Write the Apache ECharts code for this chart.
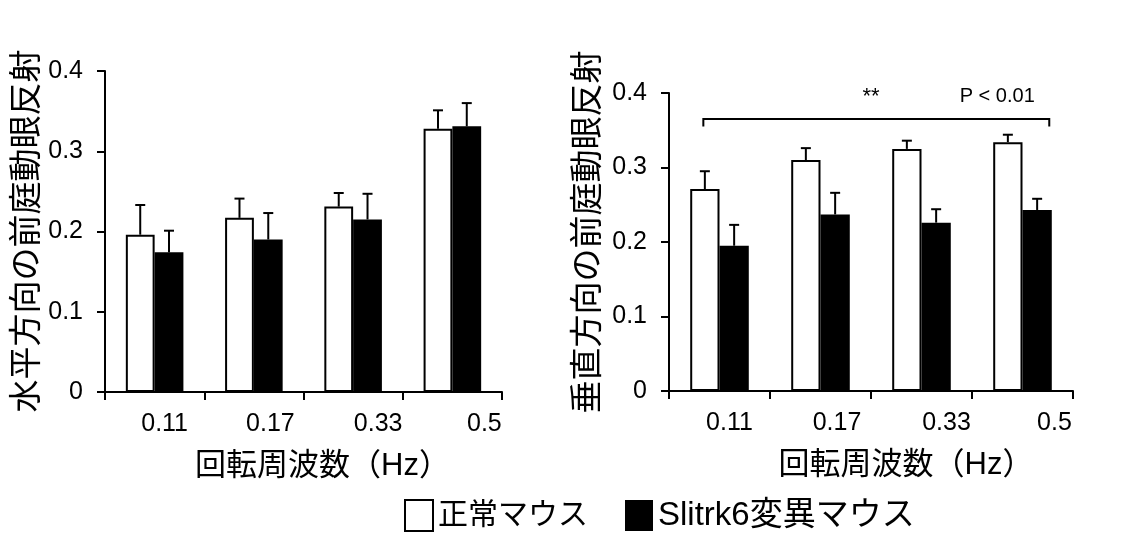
<!DOCTYPE html>
<html>
<head>
<meta charset="utf-8">
<script src="https://cdn.jsdelivr.net/npm/echarts@6/dist/echarts.min.js"></script>
<style>
html,body{margin:0;padding:0;background:#fff;}
#chart{width:1133px;height:535px;}
</style>
</head>
<body>
<div id="chart"></div>
<script>
// ---- data ----
const categories = ['0.11', '0.17', '0.33', '0.5'];
const seriesNames = ['正常マウス', 'Slitrk6変異マウス'];
const yTickValues = [0, 0.1, 0.2, 0.3, 0.4];

const horizNormal = [0.196, 0.217, 0.231, 0.328];
const horizNormalErr = [0.037, 0.024, 0.017, 0.023];
const horizMutant = [0.174, 0.190, 0.215, 0.331];
const horizMutantErr = [0.027, 0.033, 0.032, 0.029];

const vertNormal = [0.271, 0.310, 0.325, 0.334];
const vertNormalErr = [0.024, 0.016, 0.011, 0.010];
const vertMutant = [0.195, 0.237, 0.226, 0.243];
const vertMutantErr = [0.028, 0.029, 0.018, 0.015];

const leftYName = '水平方向の前庭動眼反射';
const rightYName = '垂直方向の前庭動眼反射';
const xName = '回転周波数（Hz）';
const sigLevel = 0.365;
const sigStars = '**';
const sigText = 'P < 0.01';

// ---- chart ----
const FONT = '"Liberation Sans", "Noto Sans CJK JP", sans-serif';
const BAR_FRAC = 0.29;
const LABEL_SHIFT = [20, 33, 50, 64]; // label nudges (padding, px) as in the original layout
const chart = echarts.init(document.getElementById('chart'), null, {renderer: 'canvas'});

function errData(vals, errs) {
  return vals.map((v, i) => [i, v, errs[i]]);
}
function errRenderer(side) {
  return function (params, api) {
    const i = api.value(0), v = api.value(1), e = api.value(2);
    const base = api.coord([i, v]);
    const top = api.coord([i, v + e]);
    const cw = api.size([1, 0])[0];
    const x = base[0] + side * cw * BAR_FRAC / 2;
    const st = {stroke: '#000', lineWidth: 2};
    return {
      type: 'group',
      children: [
        {type: 'line', shape: {x1: x, y1: base[1], x2: x, y2: top[1]}, style: st},
        {type: 'line', shape: {x1: x - 5, y1: top[1], x2: x + 5, y2: top[1]}, style: st}
      ]
    };
  };
}

const labelRich = {};
LABEL_SHIFT.forEach((p, i) => {
  labelRich['c' + i] = {color: '#000', fontSize: 25, fontFamily: FONT, padding: [0, 0, 0, p]};
});

function xAxisCfg(gi, padLeft) {
  return {
    type: 'category', gridIndex: gi, data: categories,
    boundaryGap: true,
    axisLine: {lineStyle: {color: '#000', width: 2}},
    axisTick: {show: true, length: 8, lineStyle: {color: '#000', width: 2}},
    axisLabel: {color: '#000', fontSize: 25, fontFamily: FONT, margin: 20,
      interval: 0, hideOverlap: false,
      formatter: (v, idx) => '{c' + idx + '|' + v + '}', rich: labelRich},
    name: xName, nameLocation: 'middle', nameGap: 59,
    nameTextStyle: {color: '#000', fontSize: 31, fontFamily: FONT, padding: [0, 0, 0, padLeft]}
  };
}
function yAxisCfg(gi) {
  return {
    type: 'value', gridIndex: gi, min: 0, max: 0.4, interval: 0.1,
    splitLine: {show: false},
    axisLine: {show: true, lineStyle: {color: '#000', width: 2}},
    axisTick: {show: true, length: 8, lineStyle: {color: '#000', width: 2}},
    axisLabel: {color: '#000', fontSize: 25, fontFamily: FONT, margin: 22,
      formatter: v => yTickValues.includes(Math.round(v * 10) / 10) ? String(Math.round(v * 10) / 10) : ''}
  };
}
function barSeries(name, gi, vals, white) {
  return {
    type: 'bar', name: name, xAxisIndex: gi, yAxisIndex: gi, data: vals,
    barWidth: (BAR_FRAC * 100) + '%', barGap: '0%',
    itemStyle: white ? {color: '#fff', borderColor: '#000', borderWidth: 2}
                     : {color: '#000', borderColor: '#000', borderWidth: 0},
    emphasis: {disabled: true}, z: 2
  };
}
function errSeries(gi, vals, errs, side) {
  return {
    type: 'custom', xAxisIndex: gi, yAxisIndex: gi, data: errData(vals, errs),
    renderItem: errRenderer(side), z: 3, silent: true
  };
}

const option = {
  backgroundColor: '#fff',
  animation: false,
  grid: [
    {left: 105, top: 71, width: 397, height: 321},
    {left: 669, top: 93, width: 404, height: 298}
  ],
  xAxis: [xAxisCfg(0, 38), xAxisCfg(1, 70)],
  yAxis: [yAxisCfg(0), yAxisCfg(1)],
  legend: {
    data: seriesNames,
    left: 399, top: 494,
    icon: 'rect', itemWidth: 28, itemHeight: 31, itemGap: 37,
    formatter: name => name === seriesNames[0] ? '{a|' + name + '}' : '{b|' + name + '}',
    textStyle: {color: '#000', fontSize: 30, fontFamily: FONT,
      rich: {a: {fontSize: 30, fontFamily: FONT, color: '#000'}, b: {fontSize: 33, fontFamily: FONT, color: '#000'}}},
    selectedMode: false
  },
  graphic: [
    {type: 'text', x: 28, y: 231, rotation: Math.PI / 2,
     style: {text: leftYName, fontSize: 33, fontFamily: FONT, fill: '#000', align: 'center', verticalAlign: 'middle'}},
    {type: 'text', x: 589, y: 232, rotation: Math.PI / 2,
     style: {text: rightYName, fontSize: 33, fontFamily: FONT, fill: '#000', align: 'center', verticalAlign: 'middle'}}
  ],
  series: [
    barSeries(seriesNames[0], 0, horizNormal, true),
    barSeries(seriesNames[1], 0, horizMutant, false),
    errSeries(0, horizNormal, horizNormalErr, -1),
    errSeries(0, horizMutant, horizMutantErr, 1),
    barSeries(seriesNames[0], 1, vertNormal, true),
    barSeries(seriesNames[1], 1, vertMutant, false),
    errSeries(1, vertNormal, vertNormalErr, -1),
    errSeries(1, vertMutant, vertMutantErr, 1),
    {
      type: 'custom', xAxisIndex: 1, yAxisIndex: 1, silent: true, z: 4,
      data: [[0, sigLevel]],
      renderItem: function (params, api) {
        const y = api.value(1);
        const cw = api.size([1, 0])[0];
        const p0 = api.coord([0, y]);
        const p3 = api.coord([categories.length - 1, y]);
        const x1 = p0[0] - 0.16 * cw, x2 = p3[0] + 0.265 * cw;
        const yDown = api.coord([0, y - 0.01])[1];
        const yText = api.coord([0, 0.395])[1];
        const st = {stroke: '#000', lineWidth: 2, fill: null};
        const mid = (api.coord([1, y])[0] + api.coord([2, y])[0]) / 2;
        const pX = (api.coord([2, y])[0] + p3[0]) / 2 + 0.25 * cw;
        return {
          type: 'group',
          children: [
            {type: 'polyline', shape: {points: [[x1, yDown], [x1, p0[1]], [x2, p0[1]], [x2, yDown]]}, style: st},
            {type: 'text', x: mid, y: yText, style: {text: sigStars, fontSize: 22, fontFamily: FONT, fill: '#000', align: 'center', verticalAlign: 'middle'}},
            {type: 'text', x: pX, y: yText, style: {text: sigText, fontSize: 20, fontFamily: FONT, fill: '#000', align: 'center', verticalAlign: 'middle'}}
          ]
        };
      }
    }
  ]
};
chart.setOption(option);
</script>
</body>
</html>
